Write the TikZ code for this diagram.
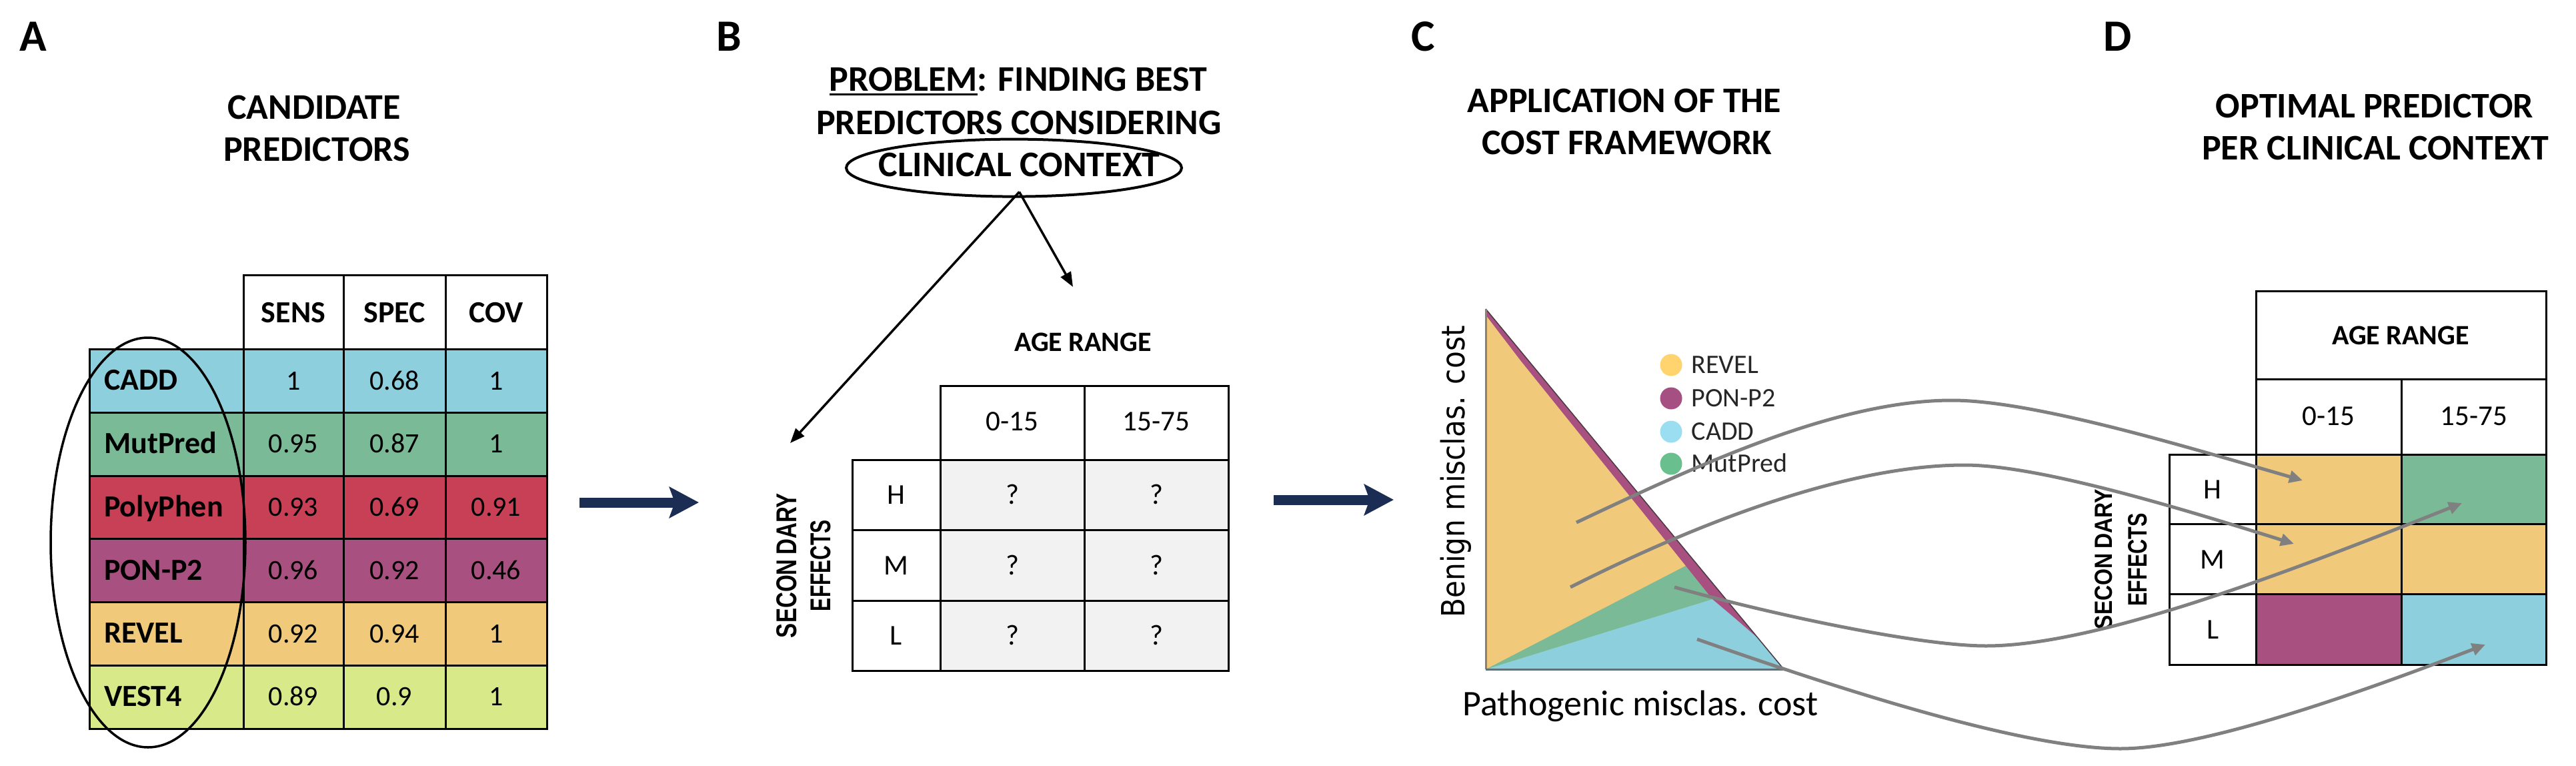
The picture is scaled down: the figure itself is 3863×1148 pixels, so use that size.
\documentclass[tikz,border=0pt]{standalone}
\usepackage{graphicx}
\usepackage{fontspec}
\setmainfont{Carlito}
\newfontfamily\arialfam{Liberation Sans}
\newfontfamily\verdfam{DejaVu Sans}
\usetikzlibrary{arrows.meta,shapes.geometric}
\definecolor{cadd}{HTML}{8ECFDD}
\definecolor{mutpred}{HTML}{7BBA96}
\definecolor{polyphen}{HTML}{C84055}
\definecolor{ponp2}{HTML}{A8507F}
\definecolor{revel}{HTML}{F0C97B}
\definecolor{vest}{HTML}{D8E98A}
\definecolor{navy}{HTML}{1B2D52}
\definecolor{cellgrey}{HTML}{F2F2F2}
\definecolor{curvegrey}{HTML}{808080}
\definecolor{lgrevel}{HTML}{FFD46E}
\definecolor{lgpon}{HTML}{A64F82}
\definecolor{lgcadd}{HTML}{9BDEF2}
\definecolor{lgmut}{HTML}{6ABF8E}
\definecolor{axisleft}{HTML}{8C8273}
\definecolor{axisbottom}{HTML}{5E7078}
\definecolor{hypline}{HTML}{4A3A45}
\newsavebox\probbox
\tikzset{
  paneltag/.style={font=\bfseries\fontsize{67}{80}\selectfont, anchor=base, inner sep=0pt},
  ttl/.style={font=\bfseries\fontsize{54}{63}\selectfont, anchor=base, inner sep=0pt},
  hdr/.style={font=\bfseries\fontsize{46}{55}\selectfont, anchor=base, inner sep=0pt},
  rowlbl/.style={font=\bfseries\fontsize{46}{55}\selectfont, anchor=base west, inner sep=0pt},
  val/.style={font=\fontsize{42}{50}\selectfont, anchor=base, inner sep=0pt},
  cellt/.style={font=\fontsize{43}{50}\selectfont, anchor=base, inner sep=0pt},
  agehdr/.style={font=\bfseries\fontsize{42}{50}\selectfont, anchor=base, inner sep=0pt},
  grid/.style={line width=3pt, line cap=rect},
  bigarrow/.style={draw=navy, line width=15pt, -{Stealth[length=44pt,width=46pt,inset=8pt]}},
  thinarrow/.style={draw=black, line width=3.5pt, -{Triangle[length=22pt,width=17pt]}},
  curvearrow/.style={draw=curvegrey, line width=5pt, -{Triangle[length=20pt,width=18pt]}},
  legdot/.style={circle, minimum size=33pt, inner sep=0pt},
  legtxt/.style={font=\fontsize{40}{48}\selectfont, anchor=base west, inner sep=0pt, text=black!85},
  secl/.style={rotate=90, inner sep=0pt, anchor=center},
}
\begin{document}
\begin{tikzpicture}[x=1pt,y=-1pt]
\useasboundingbox (0,0) rectangle (3863,1148);
\fill[white] (0,0) rectangle (3863,1148);

% ---------------- Panel A ----------------
\node[paneltag] (tagA) at (50,76.5) {A};
\node[ttl] (a-t1) at (471,178) {CANDIDATE};
\node[ttl] (a-t2) at (475,241) {PREDICTORS};

\foreach \nm/\cl/\va/\vb/\vc [count=\i from 0] in {CADD/cadd/1/0.68/1, MutPred/mutpred/0.95/0.87/1, PolyPhen/polyphen/0.93/0.69/0.91, PON-P2/ponp2/0.96/0.92/0.46, REVEL/revel/0.92/0.94/1, VEST4/vest/0.89/0.9/1}{
  \pgfmathsetmacro\yt{523.5+\i*94.75}
  \fill[\cl] (134,\yt) rectangle (820,\yt+94.75);
  \node[rowlbl] (a-lab-\i) at (156,\yt+61.4) {\nm};
  \node[val] (a-sens-\i) at (440,\yt+60.7) {\va};
  \node[val] (a-spec-\i) at (591.5,\yt+60.7) {\vb};
  \node[val] (a-cov-\i) at (744,\yt+60.7) {\vc};
}
\draw[grid] (365,412.5) -- (820,412.5);
\foreach \k in {0,...,6} \draw[grid] (134,523.5+\k*94.75) -- (820,523.5+\k*94.75);
\draw[grid] (134,523.5) -- (134,1092);
\foreach \xx in {365,515,668,820} \draw[grid] (\xx,412.5) -- (\xx,1092);
\node[hdr] (a-h1) at (440,483) {SENS};
\node[hdr] (a-h2) at (591.5,483) {SPEC};
\node[hdr] (a-h3) at (744,483) {COV};
\node[ellipse, draw, line width=3.5pt, minimum width=292pt, minimum height=614pt, inner sep=0pt] (a-ell) at (222,813) {};

\coordinate (ab-s) at (869,753);
\coordinate (ab-e) at (1048,753);
\draw[bigarrow] (ab-s) -- (ab-e);

% ---------------- Panel B ----------------
\node[paneltag] (tagB) at (1093,76.5) {B};
\node[ttl] (b-t1) at (1527,136) {\sbox\probbox{PROBLEM}\rlap{\rule[-7pt]{\wd\probbox}{3.5pt}}\usebox\probbox: FINDING BEST};
\node[ttl] (b-t2) at (1528,201) {PREDICTORS CONSIDERING};
\node[ttl] (b-t3) at (1528.5,264) {CLINICAL CONTEXT};
\node[ellipse, draw, line width=4pt, minimum width=503pt, minimum height=86pt, inner sep=0pt] (b-ell) at (1520.5,251.6) {};
\coordinate (b-endL) at (1185,664);
\coordinate (b-endR) at (1609,430);
\draw[thinarrow] ([xshift=8pt,yshift=9pt]b-ell.south) -- (b-endL);
\draw[thinarrow] ([xshift=8pt,yshift=9pt]b-ell.south) -- (b-endR);

\node[agehdr] (b-age) at (1624,526) {AGE RANGE};
\fill[cellgrey] (1410,689) rectangle (1842,1005);
\draw[grid] (1410,578) -- (1842,578);
\foreach \yy in {689,794,900,1005} \draw[grid] (1278,\yy) -- (1842,\yy);
\draw[grid] (1278,689) -- (1278,1005);
\foreach \xx in {1410,1626,1842} \draw[grid] (\xx,578) -- (\xx,1005);
\node[cellt] (b-c1) at (1518,645) {0-15};
\node[cellt] (b-c2) at (1734,645) {15-75};
\foreach \lab/\yy [count=\j] in {H/741.5, M/847, L/952.5}{
  \node[cellt] (b-r\j) at (1344,\yy+14) {\lab};
  \node[cellt] (b-q\j-a) at (1518,\yy+14) {?};
  \node[cellt] (b-q\j-b) at (1734,\yy+14) {?};
}
\node[secl] (b-sec1) at (1179.5,847.5) {\resizebox{217pt}{30pt}{\arialfam\bfseries SECON\kern2pt DARY}};
\node[secl] (b-sec2) at (1230.5,847.5) {\resizebox{137pt}{30pt}{\arialfam\bfseries EFFECTS}};

\coordinate (bc-s) at (1910,749);
\coordinate (bc-e) at (2090,749);
\draw[bigarrow] (bc-s) -- (bc-e);

% ---------------- Panel C ----------------
\node[paneltag] (tagC) at (2134.5,76.5) {C};
\node[ttl] (c-t1) at (2436,168.4) {APPLICATION OF THE};
\node[ttl] (c-t2) at (2440,231.5) {COST FRAMEWORK};

\coordinate (tO) at (2228,1003);
\coordinate (tA) at (2228,463);
\coordinate (tR) at (2675,1003);
\fill[cadd] (tO) -- (tA) -- (tR) -- cycle;
\fill[mutpred] (tO) -- (tA) -- (2584,893) -- cycle;
\fill[revel] (tO) -- (tA) -- (2541,841) -- cycle;
\fill[ponp2] (tA) -- (2636,956) -- (2600,925) -- (2568,898) -- (2500,813) -- (2280,540) -- (2228,472) -- cycle;
\draw[hypline, line width=1.5pt] (tA) -- (tR);
\draw[axisleft, line width=3pt] (tA) -- (tO);
\draw[axisbottom, line width=3pt] (tO) -- (tR);

\node[legdot, fill=lgrevel] (lg1) at (2506,547) {};
\node[legdot, fill=lgpon] (lg2) at (2506,597) {};
\node[legdot, fill=lgcadd] (lg3) at (2506,647) {};
\node[legdot, fill=lgmut] (lg4) at (2506,695) {};
\node[legtxt] (lg1t) at (2536.5,559.5) {REVEL};
\node[legtxt] (lg2t) at (2536.5,609.5) {PON-P2};
\node[legtxt] (lg3t) at (2536.5,659.5) {CADD};
\node[legtxt] (lg4t) at (2536.5,707.5) {MutPred};

\node[rotate=90, anchor=base, inner sep=0pt] (c-ylab) at (2196.6,707) {\scalebox{0.88}[1]{\verdfam\fontsize{48}{48}\selectfont Benign misclas. cost}};
\node[anchor=base, inner sep=0pt, font=\fontsize{54}{60}\selectfont] (c-xlab) at (2460,1072.5) {Pathogenic misclas. cost};

% ---------------- Panel D ----------------
\node[paneltag] (tagD) at (3176,76.5) {D};
\node[ttl] (d-t1) at (3561,176.8) {OPTIMAL PREDICTOR};
\node[ttl] (d-t2) at (3562,239.2) {PER CLINICAL CONTEXT};

\fill[revel] (3383,681) rectangle (3601.5,785.3);
\fill[mutpred] (3601.5,681) rectangle (3818,785.3);
\fill[revel] (3383,785.3) rectangle (3818,890.6);
\fill[ponp2] (3383,890.6) rectangle (3601.5,996);
\fill[cadd] (3601.5,890.6) rectangle (3818,996);
\foreach \yy in {436,568} \draw[grid] (3383,\yy) -- (3818,\yy);
\foreach \yy in {681,785.3,890.6,996} \draw[grid] (3253,\yy) -- (3818,\yy);
\draw[grid] (3383,436) -- (3383,996);
\draw[grid] (3818,436) -- (3818,996);
\draw[grid] (3601.5,568) -- (3601.5,996);
\draw[grid] (3253,681) -- (3253,996);
\node[agehdr] (d-age) at (3600,516.6) {AGE RANGE};
\node[cellt] (d-c1) at (3492,637.7) {0-15};
\node[cellt] (d-c2) at (3710,637.7) {15-75};
\node[cellt] (d-r1) at (3318,747) {H};
\node[cellt] (d-r2) at (3318,852) {M};
\node[cellt] (d-r3) at (3318,957) {L};
\node[secl] (d-sec1) at (3155,838) {\resizebox{210pt}{26pt}{\arialfam\bfseries SECON\kern2pt DARY}};
\node[secl] (d-sec2) at (3205.7,838.7) {\resizebox{139.5pt}{28pt}{\arialfam\bfseries EFFECTS}};

% ---------------- Curves C -> D ----------------
\coordinate (k1s) at (2364,783); \coordinate (k1m) at (2927,600); \coordinate (k1e) at (3453,720);
\coordinate (k2s) at (2355,880); \coordinate (k2m) at (2946,697); \coordinate (k2e) at (3440,815);
\coordinate (k3s) at (2511,880); \coordinate (k3m) at (2978,968); \coordinate (k3e) at (3692,754);
\coordinate (k4s) at (2545,958); \coordinate (k4m) at (3180,1122); \coordinate (k4e) at (3727,966);
\draw[curvearrow] (k1s) .. controls (2534,703) and (2750,600) .. (k1m) .. controls (3050,600) and (3283,671) .. (k1e);
\draw[curvearrow] (k2s) .. controls (2545,784) and (2770,697) .. (k2m) .. controls (3060,697) and (3280,765) .. (k2e);
\draw[curvearrow] (k3s) .. controls (2661,922) and (2880,968) .. (k3m) .. controls (3150,968) and (3450,850) .. (k3e);
\draw[curvearrow] (k4s) .. controls (2745,1028) and (3030,1122) .. (k4m) .. controls (3300,1122) and (3527,1043) .. (k4e);
\end{tikzpicture}
\end{document}
